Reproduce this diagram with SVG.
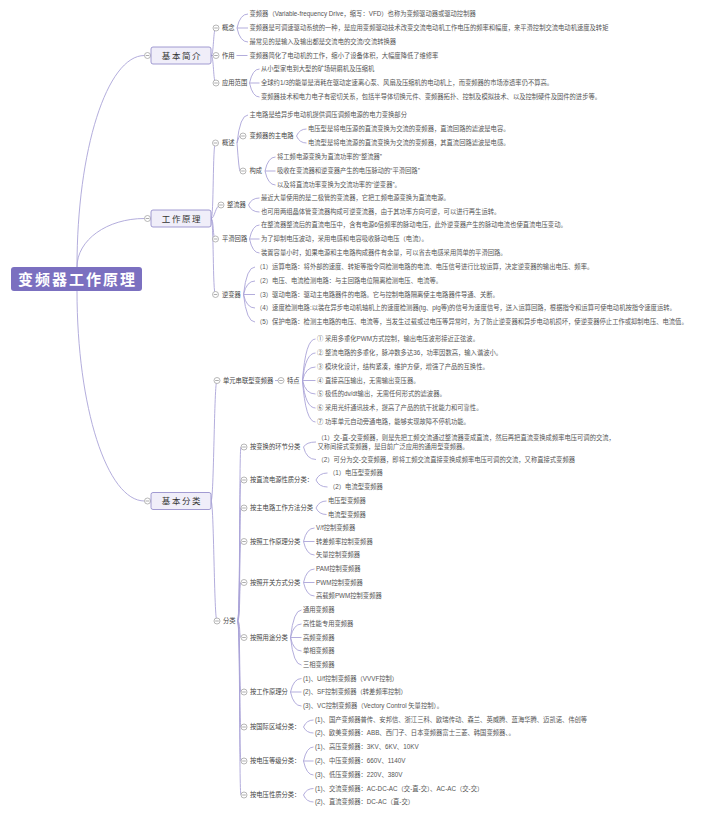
<svg xmlns="http://www.w3.org/2000/svg" width="703" height="818" viewBox="0 0 703 818">
<style>
.t{font-family:"Liberation Sans","Noto Sans CJK SC",sans-serif;font-size:6.3px;fill:#555}
.lb{font-family:"Liberation Sans","Noto Sans CJK SC",sans-serif;font-size:6.3px;fill:#444}
.ln{fill:none;stroke:#aaa4d8;stroke-width:0.9}
.bx{fill:#f0eef9;stroke:#8c84c6;stroke-width:0.8}
.bt{font-family:"Noto Sans CJK SC",sans-serif;font-size:8.5px;fill:#333;letter-spacing:1.6px;text-anchor:middle}
.rt{font-family:"Noto Sans CJK SC",sans-serif;font-size:15px;font-weight:bold;fill:#fff;letter-spacing:2px;text-anchor:middle}
</style>
<defs>
<g id="tg"><circle r="3" fill="#fff" stroke="#9a9a9a" stroke-width="0.7"/><line x1="-1.8" y1="0" x2="1.8" y2="0" stroke="#8a8a8a" stroke-width="0.7"/></g>
</defs>
<rect width="703" height="818" fill="#fff"/>
<g id="connectors">
<path class="ln" d="M77,267 C77,150 107,55.5 144.5,55.5"/>
<path class="ln" d="M77,267 C77,240 107,218.5 144.5,218.5"/>
<path class="ln" d="M77,291 C77,407 107,501 144.5,501"/>
<path class="ln" d="M211,55.5 C214,55.5 213,28 216,28"/>
<path class="ln" d="M211,55.5 L216,55.5"/>
<path class="ln" d="M211,55.5 C214,55.5 213,83 216,83"/>
<path class="ln" d="M237,28 Q240,14 248,14"/>
<path class="ln" d="M237,28 L248,28"/>
<path class="ln" d="M237,28 Q240,42 248,42"/>
<path class="ln" d="M236.5,55.5 L247.5,55.5"/>
<path class="ln" d="M249.5,83 Q252.5,69 259.5,69"/>
<path class="ln" d="M249.5,83 L259.5,83"/>
<path class="ln" d="M249.5,83 Q252.5,97 259.5,97"/>
<path class="ln" d="M211,218.5 C214,218.5 212.5,143 215.5,143"/>
<path class="ln" d="M211,218.5 C215,218.5 215,205 221,205"/>
<path class="ln" d="M211,218.5 C214,218.5 212.5,239 215.5,239"/>
<path class="ln" d="M211,218.5 C214,218.5 212.5,294.5 215.5,294.5"/>
<path class="ln" d="M237,143 Q240,115 248,115"/>
<path class="ln" d="M237,143 Q239,136 240,136"/>
<path class="ln" d="M237,143 Q239,171 240,171"/>
<path class="ln" d="M296.5,136 Q299.5,129 306.5,129"/>
<path class="ln" d="M296.5,136 Q299.5,143 306.5,143"/>
<path class="ln" d="M265,171 Q268,157 275.5,157"/>
<path class="ln" d="M265,171 L275.5,171"/>
<path class="ln" d="M265,171 Q268,185 275.5,185"/>
<path class="ln" d="M248.5,205 Q251.5,198 259.5,198"/>
<path class="ln" d="M248.5,205 Q251.5,212 259.5,212"/>
<path class="ln" d="M249.5,239 Q252.5,225 259.5,225"/>
<path class="ln" d="M249.5,239 L259.5,239"/>
<path class="ln" d="M249.5,239 Q252.5,253 259.5,253"/>
<path class="ln" d="M243.5,294.5 Q246.5,267 255,267"/>
<path class="ln" d="M243.5,294.5 Q246.5,281 255,281"/>
<path class="ln" d="M243.5,294.5 L255,294.5"/>
<path class="ln" d="M243.5,294.5 Q246.5,308 255,308"/>
<path class="ln" d="M243.5,294.5 Q246.5,322 255,322"/>
<path class="ln" d="M211,501 C214,501 214,380.5 217,380.5"/>
<path class="ln" d="M211,501 C214,501 214,621 217,621"/>
<path class="ln" d="M275,380.5 L278,380.5"/>
<path class="ln" d="M302.5,380.5 Q305.5,339 315.5,339"/>
<path class="ln" d="M302.5,380.5 Q305.5,353 315.5,353"/>
<path class="ln" d="M302.5,380.5 Q305.5,367 315.5,367"/>
<path class="ln" d="M302.5,380.5 L315.5,380.5"/>
<path class="ln" d="M302.5,380.5 Q305.5,394 315.5,394"/>
<path class="ln" d="M302.5,380.5 Q305.5,408 315.5,408"/>
<path class="ln" d="M302.5,380.5 Q305.5,422 315.5,422"/>
<path class="ln" d="M237.5,621 C240.5,621 239,447 241,447"/>
<path class="ln" d="M237.5,621 C240.5,621 239,480 241,480"/>
<path class="ln" d="M237.5,621 C240.5,621 239,508 241,508"/>
<path class="ln" d="M237.5,621 C240.5,621 239,541.5 241,541.5"/>
<path class="ln" d="M237.5,621 C240.5,621 239,582.5 241,582.5"/>
<path class="ln" d="M237.5,621 C240.5,621 239,637.5 241,637.5"/>
<path class="ln" d="M237.5,621 C240.5,621 239,692 241,692"/>
<path class="ln" d="M237.5,621 C240.5,621 239,727 241,727"/>
<path class="ln" d="M237.5,621 C240.5,621 239,761 241,761"/>
<path class="ln" d="M237.5,621 C240.5,621 239,795 241,795"/>
<path class="ln" d="M303.5,447 Q306.5,442 316,442"/>
<path class="ln" d="M303.5,447 Q306.5,459.5 316,459.5"/>
<path class="ln" d="M316,480 Q319,473 327.5,473"/>
<path class="ln" d="M316,480 Q319,487 327.5,487"/>
<path class="ln" d="M316,508 Q319,501 326.5,501"/>
<path class="ln" d="M316,508 Q319,514.5 326.5,514.5"/>
<path class="ln" d="M303.5,541.5 Q306.5,528 314.5,528"/>
<path class="ln" d="M303.5,541.5 L314.5,541.5"/>
<path class="ln" d="M303.5,541.5 Q306.5,555 314.5,555"/>
<path class="ln" d="M303.5,582.5 Q306.5,569 314.5,569"/>
<path class="ln" d="M303.5,582.5 L314.5,582.5"/>
<path class="ln" d="M303.5,582.5 Q306.5,596 314.5,596"/>
<path class="ln" d="M290.5,637.5 Q293.5,610 301.5,610"/>
<path class="ln" d="M290.5,637.5 Q293.5,624 301.5,624"/>
<path class="ln" d="M290.5,637.5 L301.5,637.5"/>
<path class="ln" d="M290.5,637.5 Q293.5,651 301.5,651"/>
<path class="ln" d="M290.5,637.5 Q293.5,665 301.5,665"/>
<path class="ln" d="M290.5,692 Q293.5,678.5 301.5,678.5"/>
<path class="ln" d="M290.5,692 L301.5,692"/>
<path class="ln" d="M290.5,692 Q293.5,706 301.5,706"/>
<path class="ln" d="M303.5,727 Q306.5,720 313.5,720"/>
<path class="ln" d="M303.5,727 Q306.5,733 313.5,733"/>
<path class="ln" d="M303.5,761 Q306.5,747 313.5,747"/>
<path class="ln" d="M303.5,761 L313.5,761"/>
<path class="ln" d="M303.5,761 Q306.5,775 313.5,775"/>
<path class="ln" d="M303.5,795 Q306.5,788.5 313.5,788.5"/>
<path class="ln" d="M303.5,795 Q306.5,802 313.5,802"/>
</g>
<g id="n-root"><rect x="11" y="267" width="131" height="24" rx="3" fill="#7b70c0"/><text class="rt" x="77.5" y="284.5">变频器工作原理</text></g>
<g id="n-jbjj"><use href="#tg" x="147.5" y="55.5"/><rect class="bx" x="151" y="47" width="60" height="17" rx="2"/><text class="bt" x="182" y="58.6">基本简介</text></g>
<g id="n-gzyl"><use href="#tg" x="147.5" y="218.5"/><rect class="bx" x="151" y="210" width="60" height="17" rx="2"/><text class="bt" x="182" y="221.6">工作原理</text></g>
<g id="n-jbfl"><use href="#tg" x="147.5" y="501"/><rect class="bx" x="151" y="492.5" width="60" height="17" rx="2"/><text class="bt" x="182" y="504.1">基本分类</text></g>

<g id="n-gn"><use href="#tg" x="216" y="28"/><text class="lb" x="222" y="30.3">概念</text></g>
<g id="n-gn-1"><text class="t" x="249.5" y="16.3">变频器（Variable-frequency Drive，缩写：VFD）也称为变频驱动器或驱动控制器</text></g>
<g id="n-gn-2"><text class="t" x="249.5" y="30.3">变频器是可调速驱动系统的一种，是应用变频驱动技术改变交流电动机工作电压的频率和幅度，来平滑控制交流电动机速度及转矩</text></g>
<g id="n-gn-3"><text class="t" x="249.5" y="44.3">最常见的是输入及输出都是交流电的交流/交流转换器</text></g>
<g id="n-zy"><use href="#tg" x="216" y="55.5"/><text class="lb" x="222" y="57.8">作用</text></g>
<g id="n-zy-1"><text class="t" x="249.5" y="57.8">变频器简化了电动机的工作，缩小了设备体积，大幅度降低了维修率</text></g>
<g id="n-yyfw"><use href="#tg" x="216" y="83"/><text class="lb" x="222" y="85.3">应用范围</text></g>
<g id="n-yyfw-1"><text class="t" x="261" y="71.3">从小型家电到大型的矿场研磨机及压缩机</text></g>
<g id="n-yyfw-2"><text class="t" x="261" y="85.3">全球约1/3的能量是消耗在驱动定速离心泵、风扇及压缩机的电动机上，而变频器的市场渗透率仍不算高。</text></g>
<g id="n-yyfw-3"><text class="t" x="261" y="99.3">变频器技术和电力电子有密切关系，包括半导体切换元件、变频器拓扑、控制及模拟技术、以及控制硬件及固件的进步等。</text></g>

<g id="n-gs"><use href="#tg" x="215.5" y="143"/><text class="lb" x="222" y="145.3">概述</text></g>
<g id="n-gs-1"><text class="t" x="249.5" y="117.3">主电路是给异步电动机提供调压调频电源的电力变换部分</text></g>
<g id="n-zdl"><use href="#tg" x="243" y="136"/><text class="lb" x="249.5" y="138.3">变频器的主电路</text></g>
<g id="n-zdl-1"><text class="t" x="308" y="131.3">电压型是将电压源的直流变换为交流的变频器，直流回路的滤波是电容。</text></g>
<g id="n-zdl-2"><text class="t" x="308" y="145.3">电流型是将电流源的直流变换为交流的变频器，其直流回路滤波是电感。</text></g>
<g id="n-gc"><use href="#tg" x="243" y="171"/><text class="lb" x="249.5" y="173.3">构成</text></g>
<g id="n-gc-1"><text class="t" x="277" y="159.3">将工频电源变换为直流功率的“整流器”</text></g>
<g id="n-gc-2"><text class="t" x="277" y="173.3">吸收在变流器和逆变器产生的电压脉动的“平滑回路”</text></g>
<g id="n-gc-3"><text class="t" x="277" y="187.3">以及将直流功率变换为交流功率的“逆变器”。</text></g>
<g id="n-zlq"><use href="#tg" x="221" y="205"/><text class="lb" x="227" y="207.3">整流器</text></g>
<g id="n-zlq-1"><text class="t" x="261" y="200.3">最近大量使用的是二极管的变流器，它把工频电源变换为直流电源。</text></g>
<g id="n-zlq-2"><text class="t" x="261" y="214.3">也可用两组晶体管变流器构成可逆变流器，由于其功率方向可逆，可以进行再生运转。</text></g>
<g id="n-phhl"><use href="#tg" x="215.5" y="239"/><text class="lb" x="222" y="241.3">平滑回路</text></g>
<g id="n-phhl-1"><text class="t" x="261" y="227.3">在整流器整流后的直流电压中，含有电源6倍频率的脉动电压，此外逆变器产生的脉动电流也使直流电压变动。</text></g>
<g id="n-phhl-2"><text class="t" x="261" y="241.3">为了抑制电压波动，采用电感和电容吸收脉动电压（电流）。</text></g>
<g id="n-phhl-3"><text class="t" x="261" y="255.3">装置容量小时，如果电源和主电路构成器件有余量，可以省去电感采用简单的平滑回路。</text></g>
<g id="n-nbq"><use href="#tg" x="215.5" y="294.5"/><text class="lb" x="222" y="296.8">逆变器</text></g>
<g id="n-nbq-1"><text class="t" x="256" y="269.3">（1）运算电路：将外部的速度、转矩等指令同检测电路的电流、电压信号进行比较运算，决定逆变器的输出电压、频率。</text></g>
<g id="n-nbq-2"><text class="t" x="256" y="283.3">（2）电压、电流检测电路：与主回路电位隔离检测电压、电流等。</text></g>
<g id="n-nbq-3"><text class="t" x="256" y="296.8">（3）驱动电路：驱动主电路器件的电路。它与控制电路隔离使主电路器件导通、关断。</text></g>
<g id="n-nbq-4"><text class="t" x="256" y="310.3">（4）速度检测电路:以装在异步电动机轴机上的速度检测器(tg、plg等)的信号为速度信号，送入运算回路，根据指令和运算可使电动机按指令速度运转。</text></g>
<g id="n-nbq-5"><text class="t" x="256" y="324.3">（5）保护电路：检测主电路的电压、电流等，当发生过载或过电压等异常时，为了防止逆变器和异步电动机损坏，使逆变器停止工作或抑制电压、电流值。</text></g>

<g id="n-dycl"><use href="#tg" x="217" y="380.5"/><text class="lb" x="223" y="382.8">单元串联型变频器</text></g>
<g id="n-td"><use href="#tg" x="281" y="380.5"/><text class="lb" x="287" y="382.8">特点</text></g>
<g id="n-td-1"><text class="t" x="317" y="341.3">① 采用多重化PWM方式控制，输出电压波形接近正弦波。</text></g>
<g id="n-td-2"><text class="t" x="317" y="355.3">② 整流电路的多重化，脉冲数多达36，功率因数高，输入谐波小。</text></g>
<g id="n-td-3"><text class="t" x="317" y="369.3">③ 模块化设计，结构紧凑，维护方便，增强了产品的互换性。</text></g>
<g id="n-td-4"><text class="t" x="317" y="382.8">④ 直接高压输出，无需输出变压器。</text></g>
<g id="n-td-5"><text class="t" x="317" y="396.3">⑤ 极低的dv/dt输出，无需任何形式的滤波器。</text></g>
<g id="n-td-6"><text class="t" x="317" y="410.3">⑥ 采用光纤通讯技术，提高了产品的抗干扰能力和可靠性。</text></g>
<g id="n-td-7"><text class="t" x="317" y="424.3">⑦ 功率单元自动旁通电路，能够实现故障不停机功能。</text></g>

<g id="n-fl"><use href="#tg" x="217" y="621"/><text class="lb" x="223" y="623.3">分类</text></g>
<g id="n-bh"><use href="#tg" x="244" y="447"/><text class="lb" x="250" y="449.3">按变换的环节分类</text></g>
<g id="n-bh-1"><text class="t" x="317.5" y="439.8">（1）交-直-交变频器，则是先把工频交流通过整流器变成直流，然后再把直流变换成频率电压可调的交流，</text><text class="t" x="317.5" y="448.8">又称间接式变频器，是目前广泛应用的通用型变频器。</text></g>
<g id="n-bh-2"><text class="t" x="317.5" y="461.8">（2）可分为交-交变频器，即将工频交流直接变换成频率电压可调的交流，又称直接式变频器</text></g>
<g id="n-zlxz"><use href="#tg" x="244" y="480"/><text class="lb" x="250" y="482.3">按直流电源性质分类：</text></g>
<g id="n-zlxz-1"><text class="t" x="329" y="475.3">（1）电压型变频器</text></g>
<g id="n-zlxz-2"><text class="t" x="329" y="489.3">（2）电流型变频器</text></g>
<g id="n-zdlff"><use href="#tg" x="244" y="508"/><text class="lb" x="250" y="510.3">按主电路工作方法分类</text></g>
<g id="n-zdlff-1"><text class="t" x="328" y="503.3">电压型变频器</text></g>
<g id="n-zdlff-2"><text class="t" x="328" y="516.8">电流型变频器</text></g>
<g id="n-gzylfl"><use href="#tg" x="244" y="541.5"/><text class="lb" x="250" y="543.8">按照工作原理分类</text></g>
<g id="n-gzylfl-1"><text class="t" x="316" y="530.3">V/f控制变频器</text></g>
<g id="n-gzylfl-2"><text class="t" x="316" y="543.8">转差频率控制变频器</text></g>
<g id="n-gzylfl-3"><text class="t" x="316" y="557.3">矢量控制变频器</text></g>
<g id="n-kgfs"><use href="#tg" x="244" y="582.5"/><text class="lb" x="250" y="584.8">按照开关方式分类</text></g>
<g id="n-kgfs-1"><text class="t" x="316" y="571.3">PAM控制变频器</text></g>
<g id="n-kgfs-2"><text class="t" x="316" y="584.8">PWM控制变频器</text></g>
<g id="n-kgfs-3"><text class="t" x="316" y="598.3">高载频PWM控制变频器</text></g>
<g id="n-yt"><use href="#tg" x="244" y="637.5"/><text class="lb" x="250" y="639.8">按照用途分类</text></g>
<g id="n-yt-1"><text class="t" x="303" y="612.3">通用变频器</text></g>
<g id="n-yt-2"><text class="t" x="303" y="626.3">高性能专用变频器</text></g>
<g id="n-yt-3"><text class="t" x="303" y="639.8">高频变频器</text></g>
<g id="n-yt-4"><text class="t" x="303" y="653.3">单相变频器</text></g>
<g id="n-yt-5"><text class="t" x="303" y="667.3">三相变频器</text></g>
<g id="n-gzylf"><use href="#tg" x="244" y="692"/><text class="lb" x="250" y="694.3">按工作原理分</text></g>
<g id="n-gzylf-1"><text class="t" x="303" y="680.8">(1)、U/f控制变频器（VVVF控制）</text></g>
<g id="n-gzylf-2"><text class="t" x="303" y="694.3">(2)、SF控制变频器（转差频率控制）</text></g>
<g id="n-gzylf-3"><text class="t" x="303" y="708.3">(3)、VC控制变频器（Vectory Control 矢量控制）。</text></g>
<g id="n-gjqy"><use href="#tg" x="244" y="727"/><text class="lb" x="250" y="729.3">按国际区域分类：</text></g>
<g id="n-gjqy-1"><text class="t" x="315" y="722.3">(1)、国产变频器普传、安邦信、浙江三科、欧瑞传动、森兰、英威腾、蓝海华腾、迈凯诺、伟创等</text></g>
<g id="n-gjqy-2"><text class="t" x="315" y="735.3">(2)、欧美变频器：ABB、西门子、日本变频器富士三菱、韩国变频器、。</text></g>
<g id="n-dydj"><use href="#tg" x="244" y="761"/><text class="lb" x="250" y="763.3">按电压等级分类：</text></g>
<g id="n-dydj-1"><text class="t" x="315" y="749.3">(1)、高压变频器：3KV、6KV、10KV</text></g>
<g id="n-dydj-2"><text class="t" x="315" y="763.3">(2)、中压变频器：660V、1140V</text></g>
<g id="n-dydj-3"><text class="t" x="315" y="777.3">(3)、低压变频器：220V、380V</text></g>
<g id="n-dyxz"><use href="#tg" x="244" y="795"/><text class="lb" x="250" y="797.3">按电压性质分类：</text></g>
<g id="n-dyxz-1"><text class="t" x="315" y="790.8">(1)、交流变频器：AC-DC-AC（交-直-交）、AC-AC（交-交）</text></g>
<g id="n-dyxz-2"><text class="t" x="315" y="804.3">(2)、直流变频器：DC-AC（直-交）</text></g>
</svg>
